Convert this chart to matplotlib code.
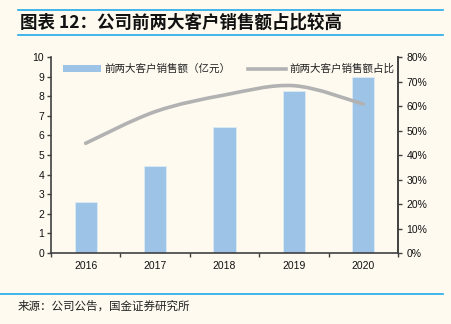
import numpy as np
import matplotlib
matplotlib.use("Agg")
import matplotlib.pyplot as plt
from matplotlib.path import Path
from matplotlib.patches import PathPatch
from matplotlib.lines import Line2D
from matplotlib.patches import Patch

plt.rcParams['font.family'] = ['Noto Sans CJK SC', 'DejaVu Sans']

years = ['2016', '2017', '2018', '2019', '2020']
sales = [2.6, 4.44, 6.42, 8.27, 8.96]          # 亿元
share = [44.8, 57.7, 64.5, 68.3, 60.8]         # %

BG = '#FEFAF0'
BAR = '#9DC3E6'
LINE = '#B2B2B2'
AXC = '#404040'
RULE = '#1FA9E8'

fig = plt.figure(figsize=(4.51, 3.24), dpi=100, facecolor=BG)
ax = fig.add_axes([0.113, 0.219, 0.7695, 0.605])
ax.set_facecolor(BG)
x = np.arange(len(years))

ax.bar(x, sales, width=0.32, color=BAR, edgecolor='#DDEBF7', linewidth=0.6, zorder=2)
ax.set_xlim(-0.5, len(years) - 0.5)
ax.set_ylim(0, 10)
ax.set_yticks(range(0, 11))
ax.set_xticks(x)
ax.set_xticklabels(years)
ax.set_xticks(np.arange(-0.5, len(years)), minor=True)
ax.tick_params(axis='x', which='major', length=0, pad=6)
ax.tick_params(axis='x', which='minor', length=3, direction='out', color=AXC, width=1)
ax.tick_params(axis='y', length=3, direction='out', color=AXC, width=1, pad=2)

for side in ['top']:
    ax.spines[side].set_visible(False)
for side in ['left', 'bottom', 'right']:
    ax.spines[side].set_color(AXC)
    ax.spines[side].set_linewidth(1.2)

ax2 = ax.twinx()
ax2.set_ylim(0, 80)
ax2.set_yticks(range(0, 81, 10))
ax2.set_yticklabels([f'{v}%' for v in range(0, 81, 10)])
ax2.tick_params(axis='y', length=3, direction='out', color=AXC, width=1, pad=3)
for side in ['top', 'left', 'bottom']:
    ax2.spines[side].set_visible(False)
ax2.spines['right'].set_color(AXC)
ax2.spines['right'].set_linewidth(1.2)

for a in (ax, ax2):
    for lbl in a.get_xticklabels() + a.get_yticklabels():
        lbl.set_fontfamily(['Liberation Sans', 'DejaVu Sans'])
        lbl.set_fontsize(7.5)
        lbl.set_color('#111111')

# smoothed share curve (Catmull-Rom to cubic Bezier through data points)
pts = np.column_stack([x, share]).astype(float)
verts = [tuple(pts[0])]
codes = [Path.MOVETO]
n = len(pts)
for i in range(n - 1):
    p0 = pts[i - 1] if i > 0 else pts[i]
    p1 = pts[i]
    p2 = pts[i + 1]
    p3 = pts[i + 2] if i + 2 < n else pts[i + 1]
    c1 = p1 + (p2 - p0) / 6.0
    c2 = p2 - (p3 - p1) / 6.0
    verts += [tuple(c1), tuple(c2), tuple(p2)]
    codes += [Path.CURVE4] * 3
curve = PathPatch(Path(verts, codes), facecolor='none', edgecolor=LINE,
                  linewidth=2.6, capstyle='round', zorder=3)
ax2.add_patch(curve)

handles = [Patch(facecolor=BAR, edgecolor='none'),
           Line2D([0], [0], color=LINE, linewidth=2.6)]
leg = ax2.legend(handles, ['前两大客户销售额（亿元）', '前两大客户销售额占比'],
                 loc='upper left', bbox_to_anchor=(0.015, 1.0), ncol=2,
                 frameon=False, fontsize=7.6, handlelength=3.6, handleheight=0.55,
                 handletextpad=0.35, columnspacing=1.6, borderaxespad=0.25)
for t in leg.get_texts():
    t.set_color('#222222')
    t.set_fontweight('light')

# header and footer
fig.add_artist(Line2D([18/451, 443/451], [1 - 10/324, 1 - 10/324],
                      color=RULE, linewidth=1.2, transform=fig.transFigure))
fig.add_artist(Line2D([18/451, 443/451], [1 - 35/324, 1 - 35/324],
                      color=RULE, linewidth=1.2, transform=fig.transFigure))
fig.add_artist(Line2D([0/451, 443/451], [1 - 294/324, 1 - 294/324],
                      color=RULE, linewidth=1.2, transform=fig.transFigure))
fig.text(20/451, 1 - 22.5/324, '图表 12：公司前两大客户销售额占比较高', fontsize=12.6,
         fontweight='bold', style='italic', color='#111111', va='center', ha='left')
fig.text(18/451, 1 - 306/324, '来源：公司公告，国金证券研究所', fontsize=8.3,
         fontweight='light', color='#222222', va='center', ha='left')

fig.savefig('out.png', dpi=100, facecolor=BG)
